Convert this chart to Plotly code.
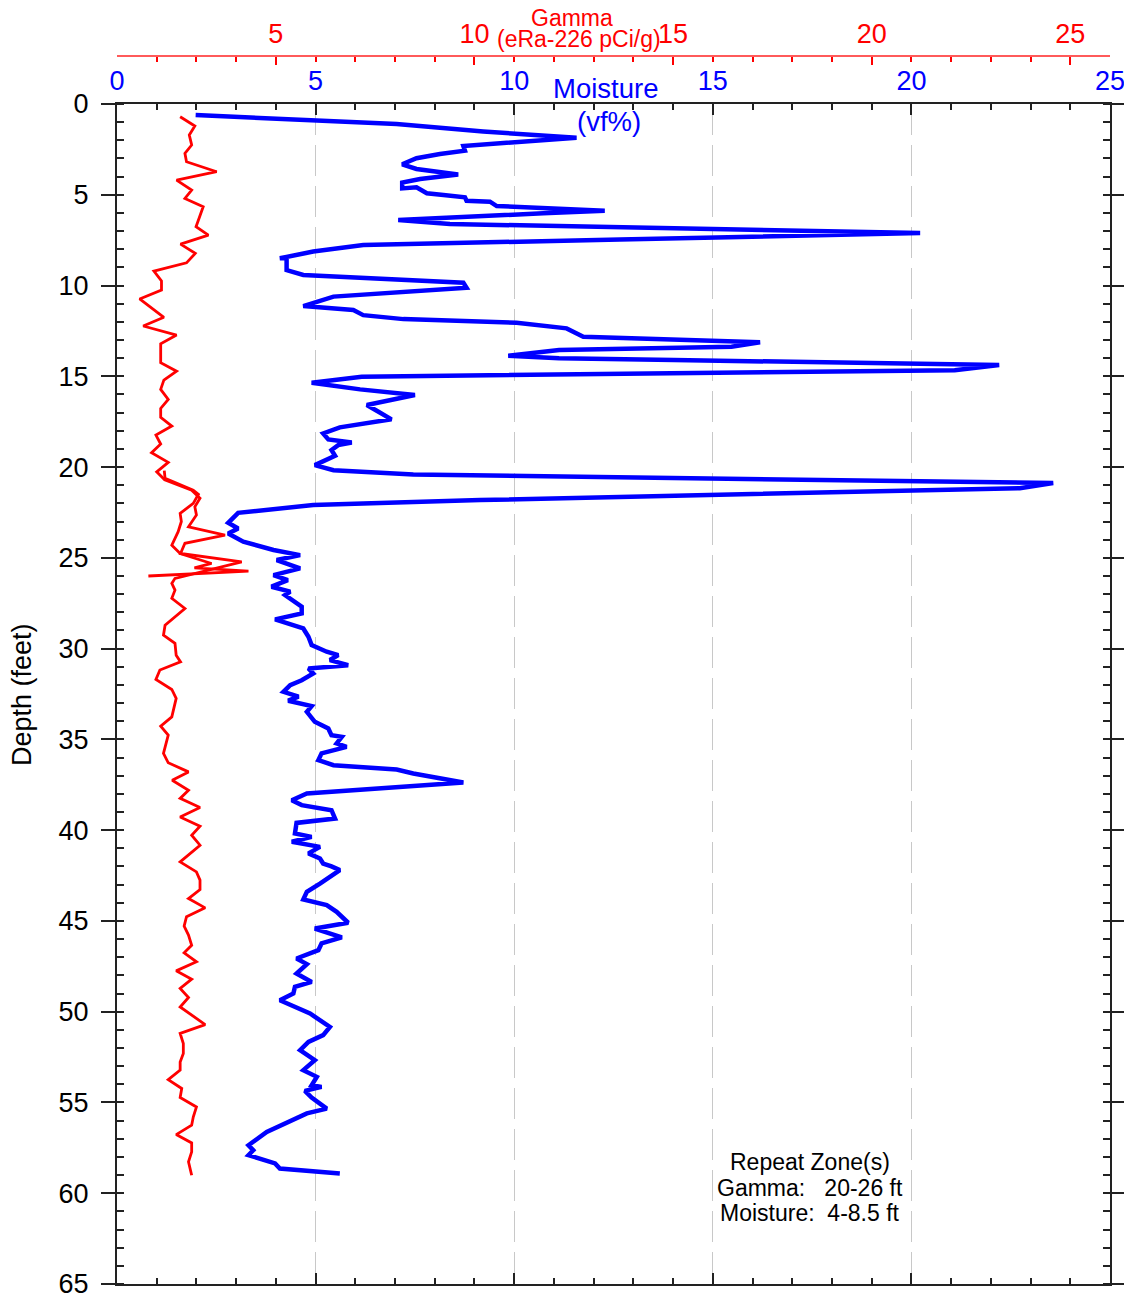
import plotly.graph_objects as go

# ---------------- data ----------------
moist_depth = [0.61, 1.10, 1.52, 1.86, 2.31, 2.57, 2.75, 2.99, 3.32, 3.58, 3.88, 4.13, 4.33, 4.65, 4.59,
               4.92, 5.01, 5.14, 5.33, 5.38, 5.62, 5.88, 6.02, 6.39, 6.61, 7.11, 7.46, 7.77, 8.13, 8.50,
               8.50, 9.15, 9.42, 9.84, 10.12, 10.61, 11.13, 11.35, 11.63, 11.85, 12.05, 12.36, 12.82,
               13.13, 13.37, 13.55, 13.87, 14.01, 14.10, 14.25, 14.38, 14.66, 15.02, 15.35, 15.65, 15.72,
               16.03, 16.58, 16.90, 17.37, 17.81, 18.15, 18.48, 18.65, 18.79, 19.06, 19.38, 19.89, 20.17,
               20.41, 20.88, 21.16, 21.82, 22.09, 22.52, 23.07, 23.38, 23.66, 24.11, 24.57, 24.85, 25.12,
               25.58, 25.95, 26.23, 26.59, 26.86, 27.05, 27.69, 28.06, 28.39, 28.61, 28.89, 29.35, 29.81,
               30.17, 30.36, 30.63, 30.91, 31.09, 31.37, 31.74, 32.01, 32.38, 32.65, 32.87, 33.17, 33.48,
               34.03, 34.40, 34.77, 34.86, 35.22, 35.41, 35.77, 36.14, 36.42, 36.66, 36.88, 37.37, 37.98,
               38.35, 38.62, 38.90, 39.36, 39.60, 40.18, 40.37, 40.64, 40.92, 41.28, 41.56, 41.84, 42.00,
               42.20, 42.94, 43.40, 43.82, 44.13, 44.50, 45.10, 45.42, 45.91, 46.24, 46.61, 47.07, 47.38,
               47.90, 48.36, 48.63, 49.00, 49.37, 50.10, 50.84, 51.29, 51.66, 52.12, 52.67, 53.22, 53.59,
               54.05, 54.14, 54.36, 54.73, 55.34, 55.60, 56.16, 56.62, 57.36, 57.63, 57.90, 58.36, 58.64,
               58.91]
moisture = [1.98, 7.04, 9.22, 11.57, 8.72, 8.76, 8.13, 7.54, 7.18, 7.54, 8.59, 7.63, 7.18, 7.18, 7.54,
            7.80, 8.22, 8.76, 8.80, 9.39, 9.56, 12.28, 10.73, 7.08, 8.38, 20.22, 12.66, 6.20, 4.94, 4.10,
            4.27, 4.27, 4.69, 8.72, 8.80, 5.45, 4.69, 5.95, 6.20, 7.21, 10.06, 11.32, 11.74,
            16.19, 15.47, 11.13, 9.85, 11.13, 14.02, 18.83, 22.21, 21.09, 6.16, 4.90, 5.80, 6.12,
            7.50, 6.29, 6.54, 6.91, 5.61, 5.19, 5.32, 5.91, 5.57, 5.40, 5.49, 4.98, 5.45,
            7.46, 23.57, 22.73, 9.14, 4.94, 3.05, 2.80, 3.05, 2.80, 3.18, 3.94, 4.61, 4.02,
            4.61, 3.94, 4.30, 3.89, 4.36, 4.23, 4.65, 4.65, 3.98, 4.27, 4.69, 4.82, 4.90,
            5.28, 5.57, 5.36, 5.82, 4.82, 4.94, 4.65, 4.36, 4.19, 4.57, 4.31, 4.90, 4.78,
            4.98, 5.32, 5.40, 5.66, 5.53, 5.78, 5.15, 5.07, 5.45, 7.04, 7.46, 8.72, 4.78,
            4.40, 4.65, 5.40, 5.49, 4.52, 4.48, 4.90, 4.40, 5.11, 4.82, 5.11, 5.19, 5.40,
            5.61, 5.11, 4.78, 4.69, 5.28, 5.53, 5.82, 4.98, 5.66, 5.15, 5.07, 4.52, 4.78,
            4.52, 4.90, 4.48, 4.44, 4.10, 4.86, 5.36, 5.19, 4.82, 4.61, 4.98, 4.69, 5.03,
            4.90, 5.15, 4.73, 4.90, 5.28, 4.78, 4.19, 3.77, 3.31, 3.43, 3.31, 3.98, 4.10,
            5.61]

gamma_depth = [0.70, 1.21, 1.71, 2.26, 2.72, 3.18, 3.73, 4.19, 4.74, 5.20, 5.66, 6.76, 7.22, 7.72, 8.23,
               8.75, 9.21, 9.75, 10.25, 10.74, 11.75, 12.23, 12.73, 13.21, 14.25, 14.72, 15.21, 15.72,
               16.27, 16.77, 17.26, 17.74, 18.24, 18.73, 19.21, 19.74, 20.26, 20.70, 21.27, 21.72, 22.19,
               22.64, 23.29, 23.75, 24.20, 24.76, 25.22, 26.13, 26.41, 26.78, 27.23, 27.79, 28.71, 29.26,
               29.71, 30.36, 30.73, 31.18, 31.70, 32.25, 32.74, 33.76, 34.27, 34.77, 35.77, 36.29, 36.79,
               37.25, 37.80, 38.25, 38.75, 39.27, 39.78, 40.28, 40.83, 41.75, 42.30, 42.75, 43.27, 43.77,
               44.28, 44.77, 45.29, 45.78, 46.34, 46.76, 47.25, 47.75, 48.21, 48.72, 49.22, 49.74, 50.71,
               51.20, 51.75, 52.30, 52.77, 53.22, 53.74, 54.23, 54.73, 55.25, 55.80, 56.25, 56.77, 57.23,
               57.72, 58.27, 59.01]
gamma = [2.59, 2.96, 2.82, 2.88, 2.71, 2.75, 3.51, 2.50, 2.88, 2.71, 3.17, 2.99, 3.30, 2.60, 2.97,
         2.75, 1.93, 2.12, 2.12, 1.57, 2.18, 1.66, 2.50, 2.10, 2.10, 2.50, 2.18, 2.10,
         2.29, 2.10, 2.10, 2.38, 1.98, 2.10, 1.87, 2.29, 2.00, 2.20, 2.88, 3.09, 2.96,
         3.00, 2.80, 3.72, 2.71, 2.60, 4.14, 2.46, 2.38, 2.46, 2.38, 2.71, 2.21, 2.17,
         2.46, 2.49, 2.60, 2.08, 1.98, 2.38, 2.49, 2.38, 2.10, 2.29, 2.17, 2.29, 2.80,
         2.39, 2.80, 2.59, 3.09, 2.59, 3.09, 2.88, 3.09, 2.59, 3.00, 3.09, 3.09, 2.80,
         3.22, 2.75, 2.69, 2.80, 2.88, 2.69, 3.00, 2.49, 2.88, 2.59, 2.80, 2.59, 3.22,
         2.59, 2.67, 2.67, 2.59, 2.59, 2.29, 2.63, 2.59, 3.00, 2.92, 2.88, 2.49, 2.88,
         2.88, 2.80, 2.88]

repeat_depth = [20.20, 20.62, 21.27, 21.50, 22.00, 22.55, 23.00, 23.56, 24.30, 24.76, 25.31, 25.55, 25.73, 26.00]
repeat_gamma = [2.19, 2.21, 2.92, 3.05, 2.92, 2.59, 2.62, 2.54, 2.38, 2.59, 3.38, 2.95, 4.31, 1.79]

moist_ticks = [0, 5, 10, 15, 20, 25]
gamma_ticks = [5, 10, 15, 20, 25]
depth_ticks = list(range(0, 70, 5))

note_lines = ["Repeat Zone(s)", "Gamma:   20-26 ft", "Moisture:  4-8.5 ft"]

FONT = "Liberation Sans, Arial, sans-serif"
BLUE = "#0000ff"
RED = "#ff0000"

fig = go.Figure()
fig.add_trace(go.Scatter(x=gamma, y=gamma_depth, xaxis="x2", yaxis="y", mode="lines",
                         line=dict(color=RED, width=2.8), showlegend=False))
fig.add_trace(go.Scatter(x=repeat_gamma, y=repeat_depth, xaxis="x2", yaxis="y", mode="lines",
                         line=dict(color=RED, width=2.8), showlegend=False))
fig.add_trace(go.Scatter(x=moisture, y=moist_depth, xaxis="x", yaxis="y", mode="lines",
                         line=dict(color=BLUE, width=4.5), showlegend=False))

# the page body has an 8px default margin: work in page pixels and shift by OFF
OFF = 8
W = 1132 - OFF
H = 1298 - OFF
L = 117 - OFF
R = 22
TOP = 56 - OFF
BOT = 14
plot_w = W - L - R
plot_h = H - TOP - BOT
ydom_top = (H - BOT - (104 - OFF)) / plot_h


def px(xp):
    return (xp - OFF - L) / plot_w


def py(yp):
    return (H - BOT - (yp - OFF)) / plot_h


annotations = [
    dict(text="Gamma", x=px(572), y=py(18), font=dict(size=23, color=RED)),
    dict(text="(eRa-226 pCi/g)", x=px(579), y=py(39), font=dict(size=23, color=RED)),
    dict(text="Moisture", x=px(605), y=py(88), font=dict(size=27.5, color=BLUE)),
    dict(text="(vf%)", x=px(609), y=py(121), font=dict(size=27.5, color=BLUE)),
    dict(text="Depth (feet)", x=px(22), y=py(695), textangle=-90, font=dict(size=27, color="black")),
]
for i, t in enumerate(note_lines):
    annotations.append(dict(text=t.replace(" ", "&nbsp;"), x=px(810), y=py(1162 + 25.5 * i),
                            font=dict(size=23, color="black")))
for a in annotations:
    a.update(xref="paper", yref="paper", showarrow=False, xanchor="center", yanchor="middle")
    a["font"]["family"] = FONT

fig.update_layout(
    width=W, height=H,
    margin=dict(l=L, r=R, t=TOP, b=BOT, autoexpand=False),
    paper_bgcolor="white", plot_bgcolor="white",
    font=dict(family=FONT, color="black"),
    xaxis=dict(
        side="top", range=[0, 25], tickvals=moist_ticks, anchor="y", automargin=False,
        tickfont=dict(color=BLUE, size=27), ticklabeloverflow="allow",
        ticks="inside", ticklen=11, tickwidth=1.5, tickcolor="#222",
        showline=True, linecolor="#222", linewidth=2, mirror="ticks",
        showgrid=True, gridcolor="#c8c8c8", gridwidth=1, griddash="31px,10px",
        minor=dict(dtick=1, tick0=0, ticks="inside", ticklen=6, tickwidth=1.5,
                   tickcolor="#222", showgrid=False),
        zeroline=False, ticklabelstandoff=1,
    ),
    xaxis2=dict(
        overlaying="x", side="top", anchor="free", position=1.0, automargin=False,
        range=[1, 26], tickvals=gamma_ticks, ticklabeloverflow="allow",
        tickfont=dict(color=RED, size=27),
        ticks="inside", ticklen=8, tickwidth=1.5, tickcolor=RED,
        showline=True, linecolor="#ff5a5a", linewidth=2,
        showgrid=False, zeroline=False,
        minor=dict(dtick=1, tick0=0, ticks="inside", ticklen=5, tickwidth=1.5,
                   tickcolor=RED, showgrid=False),
        ticklabelstandoff=1,
    ),
    yaxis=dict(
        domain=[0, ydom_top], range=[65, 0], tickvals=depth_ticks, automargin=False,
        tickfont=dict(size=27, color="black"), ticklabeloverflow="allow",
        ticks="outside", ticklen=14, tickwidth=1.5, tickcolor="#222",
        showline=True, linecolor="#222", linewidth=2, mirror="ticks",
        showgrid=False, zeroline=False,
        minor=dict(dtick=1, tick0=0, ticks="inside", ticklen=7, tickwidth=1.5,
                   tickcolor="#222", showgrid=False),
        ticklabelstandoff=7,
    ),
    annotations=annotations,
)

fig.write_html("out.html")
